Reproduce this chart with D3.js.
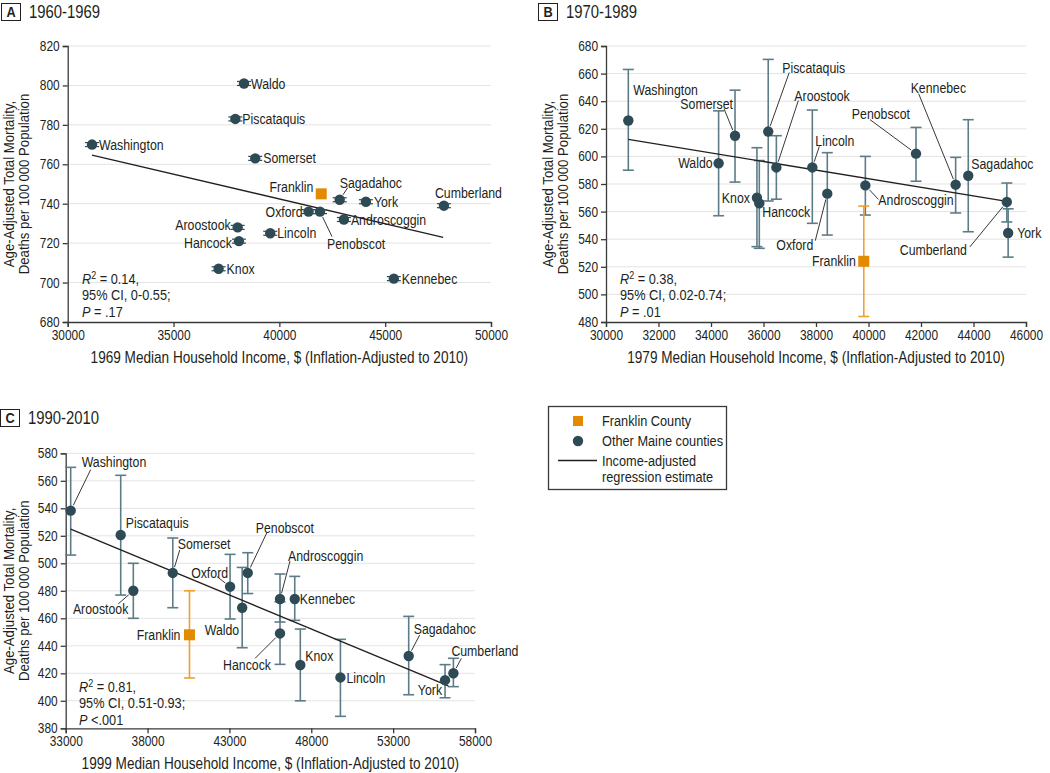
<!DOCTYPE html>
<html>
<head>
<meta charset="utf-8">
<script src="https://cdn.jsdelivr.net/npm/d3@7"></script>
<style>
  body { margin: 0; background: #fff; }
  svg text { font-family: "Liberation Sans", Arial, sans-serif; fill: #231f20; }
</style>
</head>
<body>
<div id="chart"></div>
<script>
const W = 1050, H = 773;

// counties (same order in every panel)
const counties = ['Androscoggin','Aroostook','Cumberland','Franklin','Hancock','Kennebec','Knox','Lincoln',
                  'Oxford','Penobscot','Piscataquis','Sagadahoc','Somerset','Waldo','Washington','York'];

// panel A, 1960-1969
const incomeA = [43050,38030,47775,41980,38090,45410,37130,39570,41380,41920,37920,42850,38860,38330,31150,44090];
const mortA   = [732,728,739,745,721,702,707,725,736,736,783,742,763,801,770,741];
const regA    = [[31150,764.7],[47740,722.9]];
const statsA  = ['0.14', '0-0.55', '= .17'];

// panel B, 1970-1989
const incomeB = [39880,36490,45270,39820,35840,43320,35750,37860,38430,41810,36180,43800,34915,34290,30850,45320];
const mortB   = [579,592,567,524,566,579.5,570,592,573,602,618,586,615,595,626,544.5];
const lowB    = [557.5,569,552.5,484,533.4,559,534.6,551.5,543,582,567.7,545.4,581.4,557,590,527];
const highB   = [600,615,580.7,564,597,599.3,606.3,633.6,602.7,621,670.3,626.6,648,633,663,562];
const regB    = [[30850,612.4],[45270,567.4]];
const statsB  = ['0.38', '0.02-0.74', '= .01'];

// panel C, 1990-2010
const incomeC = [46090,37130,56680,40560,46090,46990,47330,49780,43040,44120,36360,53950,39540,43780,33305,56170];
const mortC   = [474,480,420,448,449,474,426,417,483,493,520.6,432.6,493,467.7,538.3,415];
const lowC    = [457.3,460,410.3,416.6,426.5,458.5,400,388.7,459.5,478,476.9,404.4,467.7,438.6,506,402.2];
const highC   = [492.2,500,430.9,480,472,490.5,452.2,444.7,506.5,507.7,564,461.4,518.4,497,569.8,426.3];
const regC    = [[33305,524.9],[56370,410.8]];
const statsC  = ['0.81', '0.51-0.93', '<.001'];

// tick values
const xTicksA = [30000,35000,40000,45000,50000];
const yTicksA = [680,700,720,740,760,780,800,820];
const xTicksB = [30000,32000,34000,36000,38000,40000,42000,44000,46000];
const yTicksB = [480,500,520,540,560,580,600,620,640,660,680];
const xTicksC = [33000,38000,43000,48000,53000,58000];
const yTicksC = [380,400,420,440,460,480,500,520,540,560,580];

const colors = {'dot':'#2d4a55','bar':'#5d7c87','orange':'#e38a00','orangeBar':'#f0a02e','grid':'#e3e3e3','axis':'#3a3a3a'};
const sx = 0.85;   // horizontal squeeze to mimic the condensed face

// label placement (pixel offsets from the point): dx, dy, anchor, leader start
const labelsA = {
  'Waldo':[7,0,'start'], 'Piscataquis':[7,0,'start'], 'Washington':[7,0,'start'], 'Somerset':[8,0,'start'],
  'Franklin':[-8,-7,'end'], 'Sagadahoc':[0,-17,'start',[8,-12]], 'York':[8,0,'start'], 'Cumberland':[-9,-13,'start'],
  'Oxford':[-6,0,'end'], 'Penobscot':[7,32,'start',[12,25]], 'Androscoggin':[7,0,'start'], 'Aroostook':[-7,-2,'end'],
  'Hancock':[-7,1.5,'end'], 'Lincoln':[7,0,'start'], 'Knox':[8,0,'start'], 'Kennebec':[8,0,'start']
};
const labelsB = {
  'Washington':[5,-31,'start'], 'Somerset':[-2,-32,'end',[-11,-27]], 'Piscataquis':[14,-64,'start',[21,-59]],
  'Aroostook':[18,-72,'start',[22,-67]], 'Lincoln':[3,-27,'start',[7,-21]], 'Penobscot':[-6,-40,'end',[-46,-34]],
  'Kennebec':[-45,-97,'start',[-37,-91]], 'Sagadahoc':[3,-12,'start'], 'Waldo':[-6,0,'end'], 'Knox':[-7,0,'end'],
  'Hancock':[3,9,'start'], 'Oxford':[-14,51,'end',[-12,47]], 'Androscoggin':[13,15,'start',[13,14]],
  'Franklin':[-8,0,'end'], 'Cumberland':[-40,48,'end',[-37,45]], 'York':[9,0,'start']
};
const labelsC = {
  'Washington':[11,-49,'start',[20,-41]], 'Piscataquis':[5,-12,'start'], 'Aroostook':[-5,18,'end',[-15,13]],
  'Somerset':[5,-29,'start',[7,-23]], 'Oxford':[-2,-14,'end',[-13,-10]], 'Waldo':[-3,22,'end'],
  'Penobscot':[8,-45,'start',[19,-40]], 'Androscoggin':[8,-43,'start',[10,-38]], 'Kennebec':[5,0,'start'],
  'Hancock':[-9,31,'end',[-25,25]], 'Knox':[5,-9,'start'], 'Lincoln':[6,0,'start'], 'Franklin':[-9,0,'end'],
  'Sagadahoc':[5,-27,'start',[11,-21]], 'York':[-3,10,'end'], 'Cumberland':[-2,-22,'start',[8,-15]]
};

var svg;

function setup(){
  svg = d3.select('#chart')
          .append('svg')
          .attr('width', W)
          .attr('height', H);
}

// text placed at x,y and squeezed horizontally
function squeezed(parent, x, y, extra){
  return parent.append('text')
               .attr('transform', `translate(${x},${y})${extra || ''} scale(${sx},1)`);
}

function panelTitle(x, y, letter, text){
  svg.append('rect')
     .attr('x', x + 0.5).attr('y', y + 0.5)
     .attr('width', 19).attr('height', 17)
     .attr('fill','white').attr('stroke','#231f20').attr('stroke-width',1);
  squeezed(svg, x + 10, y + 14)
     .attr('text-anchor','middle')
     .style('font-size','15px').style('font-weight','bold')
     .text(letter);
  squeezed(svg, x + 28, y + 15)
     .style('font-size','17.5px')
     .text(text);
}

function drawPanel(p){
  var x = d3.scaleLinear().domain(p.xDomain).range([p.left, p.right]);
  var y = d3.scaleLinear().domain(p.yDomain).range([p.bottom, p.top]);
  var g = svg.append('g');

  // grid
  g.selectAll('.grid')
   .data(p.yTicks.slice(1))
   .enter().append('line')
   .attr('x1', p.left).attr('x2', p.right)
   .attr('y1', d => y(d)).attr('y2', d => y(d))
   .attr('stroke', colors.grid).attr('stroke-width', 1);

  // axes
  var ya = g.append('g')
            .attr('transform', `translate(${p.left},0)`)
            .call(d3.axisLeft(y).tickValues(p.yTicks).tickSize(5).tickPadding(3).tickFormat(d3.format('d')));
  var xa = g.append('g')
            .attr('transform', `translate(0,${p.bottom})`)
            .call(d3.axisBottom(x).tickValues(p.xTicks).tickSize(5).tickPadding(3).tickFormat(d3.format('d')));
  [ya, xa].forEach(a => {
    a.select('.domain').attr('stroke', colors.axis).attr('stroke-width', 1.3);
    a.selectAll('.tick line').attr('stroke', colors.axis).attr('stroke-width', 1.3);
    a.selectAll('.tick text')
     .attr('transform', `scale(${sx},1)`)
     .style('font-size','14px').style('font-family','"Liberation Sans", sans-serif').attr('fill','#231f20');
  });
  ya.selectAll('.tick text').attr('x', -8 / sx);

  // axis titles
  squeezed(svg, p.yTitleX, (p.top + p.bottom)/2, ' rotate(-90)')
     .attr('text-anchor','middle')
     .style('font-size','15.5px')
     .selectAll('tspan')
     .data(['Age-Adjusted Total Mortality,', 'Deaths per 100\u2009000 Population'])
     .enter().append('tspan')
     .attr('x', 0).attr('dy', (d,i) => i == 0 ? 0 : 15.5)
     .text(d => d);
  squeezed(svg, (p.left + p.right)/2, p.bottom + 40.5)
     .attr('text-anchor','middle')
     .style('font-size','16px')
     .text(p.xTitle);

  var rows = counties.map((c,i) => ({'name':c, 'inc':p.inc[i], 'mort':p.mort[i],
                                     'low':p.low ? p.low[i] : null, 'high':p.high ? p.high[i] : null}));

  // error bars
  if (p.low){
    rows.forEach(d => {
      var col = d.name == 'Franklin' ? colors.orangeBar : colors.bar;
      var cx = x(d.inc);
      g.append('line').attr('x1',cx).attr('x2',cx).attr('y1',y(d.low)).attr('y2',y(d.high))
       .attr('stroke',col).attr('stroke-width',1.6);
      [d.low, d.high].forEach(v => {
        g.append('line').attr('x1',cx-5.5).attr('x2',cx+5.5).attr('y1',y(v)).attr('y2',y(v))
         .attr('stroke',col).attr('stroke-width',1.6);
      });
    });
  }

  // regression line
  g.append('line')
   .attr('x1', x(p.reg[0][0])).attr('y1', y(p.reg[0][1]))
   .attr('x2', x(p.reg[1][0])).attr('y2', y(p.reg[1][1]))
   .attr('stroke','#231f20').attr('stroke-width',1.3);

  // leaders
  rows.forEach(d => {
    var l = p.labels[d.name];
    if (l && l[3]){
      var px = x(d.inc), py = y(d.mort);
      var len = Math.sqrt(l[3][0]*l[3][0] + l[3][1]*l[3][1]);
      var r = 6;
      g.append('line')
       .attr('x1', px + l[3][0]).attr('y1', py + l[3][1])
       .attr('x2', px + l[3][0]/len*r).attr('y2', py + l[3][1]/len*r)
       .attr('stroke','#231f20').attr('stroke-width',0.9);
    }
  });

  // points
  rows.forEach(d => {
    var px = x(d.inc), py = y(d.mort);
    if (d.name == 'Franklin'){
      g.append('rect').attr('x',px-5.5).attr('y',py-5.5).attr('width',11).attr('height',11)
       .attr('fill',colors.orange);
    } else {
      if (!p.low){
        [-2,2].forEach(o => {
          g.append('line').attr('x1',px-7).attr('x2',px+7).attr('y1',py+o).attr('y2',py+o)
           .attr('stroke',colors.dot).attr('stroke-width',1.2);
        });
      }
      g.append('circle').attr('cx',px).attr('cy',py).attr('r',5.2).attr('fill',colors.dot);
    }
  });

  // labels
  rows.forEach(d => {
    var l = p.labels[d.name];
    squeezed(g, x(d.inc) + l[0], y(d.mort) + l[1])
     .attr('dy','0.35em')
     .attr('text-anchor', l[2])
     .style('font-size','14.5px')
     .text(d.name);
  });

  // stats
  var st = squeezed(g, p.statX, p.statY).style('font-size','15px');
  var t1 = st.append('tspan').attr('x', 0).attr('y', 0);
  t1.append('tspan').style('font-style','italic').text('R');
  t1.append('tspan').attr('dy',-5).style('font-size','10.5px').text('2');
  t1.append('tspan').attr('dy',5).text(' = ' + p.stats[0] + ',');
  st.append('tspan').attr('x', 0).attr('y', 16.5).text('95% CI, ' + p.stats[1] + ';');
  var t3 = st.append('tspan').attr('x', 0).attr('y', 33);
  t3.append('tspan').style('font-style','italic').text('P');
  t3.append('tspan').text(' ' + p.stats[2]);
}

function makeLegend(){
  var lg = svg.append('g');
  lg.append('rect').attr('x',548.5).attr('y',406.5).attr('width',178).attr('height',83)
    .attr('fill','white').attr('stroke','#3a3a3a').attr('stroke-width',1.3);
  lg.append('rect').attr('x',573).attr('y',416).attr('width',10).attr('height',10).attr('fill',colors.orange);
  lg.append('circle').attr('cx',578).attr('cy',441).attr('r',5.2).attr('fill',colors.dot);
  lg.append('line').attr('x1',558).attr('x2',597).attr('y1',460.5).attr('y2',460.5)
    .attr('stroke','#231f20').attr('stroke-width',1.6);
  var items = [['Franklin County',421],['Other Maine counties',441],['Income-adjusted',460.5],['regression estimate',477]];
  items.forEach(d => {
    squeezed(lg, 602, d[1]).attr('dy','0.35em').style('font-size','15px').text(d[0]);
  });
}

setup();
panelTitle(1, 3, 'A', '1960-1969');
panelTitle(538, 3, 'B', '1970-1989');
panelTitle(0, 409, 'C', '1990-2010');

drawPanel({'xDomain':[30000,50000],'yDomain':[680,820],'left':67.7,'right':491,'top':46,'bottom':322,
           'xTicks':xTicksA,'yTicks':yTicksA,'inc':incomeA,'mort':mortA,'reg':regA,'labels':labelsA,
           'stats':statsA,'statX':82,'statY':284,'yTitleX':14,
           'xTitle':'1969 Median Household Income, $ (Inflation-Adjusted to 2010)'});
drawPanel({'xDomain':[30000,46000],'yDomain':[480,680],'left':606,'right':1026,'top':46,'bottom':322,
           'xTicks':xTicksB,'yTicks':yTicksB,'inc':incomeB,'mort':mortB,'low':lowB,'high':highB,'reg':regB,
           'labels':labelsB,'stats':statsB,'statX':620,'statY':284,'yTitleX':553,
           'xTitle':'1979 Median Household Income, $ (Inflation-Adjusted to 2010)'});
drawPanel({'xDomain':[33000,58000],'yDomain':[380,580],'left':65.7,'right':475,'top':453.3,'bottom':728.3,
           'xTicks':xTicksC,'yTicks':yTicksC,'inc':incomeC,'mort':mortC,'low':lowC,'high':highC,'reg':regC,
           'labels':labelsC,'stats':statsC,'statX':79,'statY':692,'yTitleX':14,
           'xTitle':'1999 Median Household Income, $ (Inflation-Adjusted to 2010)'});
makeLegend();
</script>
</body>
</html>
